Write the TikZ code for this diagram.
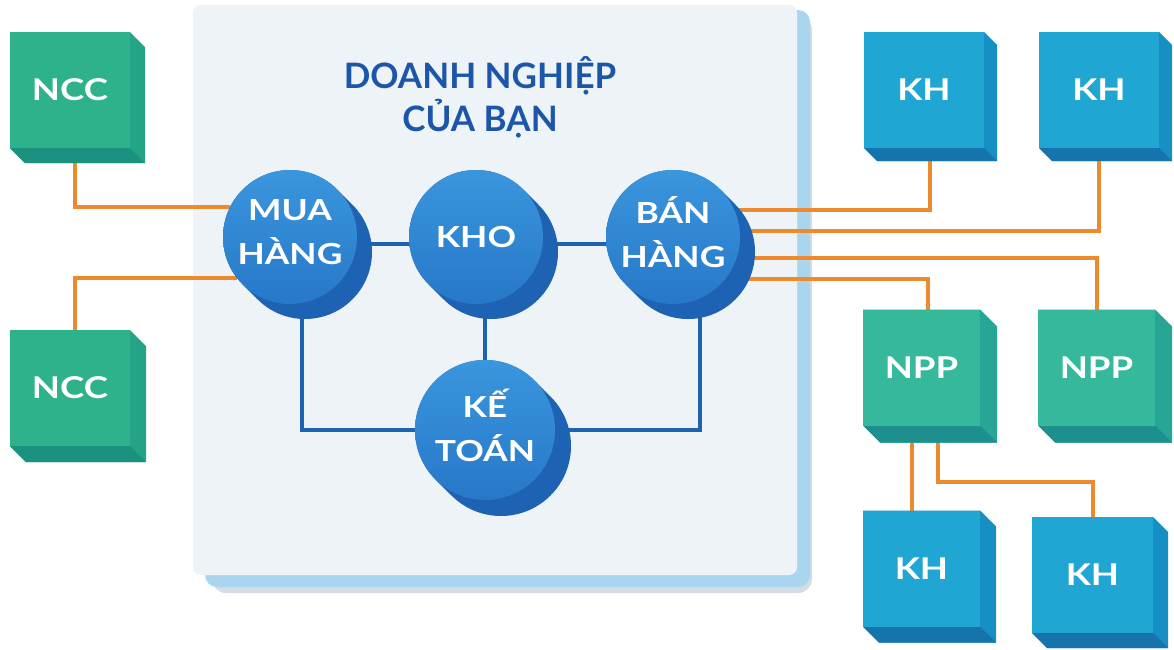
\documentclass[tikz,border=0pt]{standalone}
\usepackage{fontspec}
\setmainfont{Lato}
\newfontfamily\widefont{Lato}[FakeStretch=1.22]
\usetikzlibrary{calc}
\definecolor{bgwhite}{HTML}{FFFFFF}
\definecolor{panelface}{HTML}{EEF3F8}
\definecolor{panelside}{HTML}{A9D6EE}
\definecolor{panelshadow}{HTML}{D5DCE4}
\definecolor{titleblue}{HTML}{1B56A8}
\definecolor{wireorange}{HTML}{EE8A2E}
\definecolor{wireblue}{HTML}{1F63B0}
\definecolor{disktop}{HTML}{3A96DD}
\definecolor{diskbot}{HTML}{2778C8}
\definecolor{diskside}{HTML}{1E62B4}
\definecolor{nccface}{HTML}{2EB28C}
\definecolor{nccside}{HTML}{24A386}
\definecolor{nccbot}{HTML}{1B9280}
\definecolor{khface}{HTML}{1FA6D2}
\definecolor{khside}{HTML}{1690C4}
\definecolor{khbot}{HTML}{1574AC}
\definecolor{nppface}{HTML}{36B89C}
\definecolor{nppside}{HTML}{27A595}
\definecolor{nppbot}{HTML}{1C8F8E}
\pgfdeclarelayer{panel}
\pgfdeclarelayer{wires}
\pgfdeclarelayer{depth}
\pgfsetlayers{panel,wires,depth,main}
% extrusion of a box node: name, depth, side colour, bottom colour
\newcommand\boxdepth[4]{%
  \begin{pgfonlayer}{depth}
    \fill[#3] (#1.north west) -- (#1.north east) -- ($(#1.north east)+(#2,#2)$)
      -- ($(#1.south east)+(#2,#2)$) -- ($(#1.south west)+(#2,#2)$) -- (#1.south west) -- cycle;
    \fill[#4] (#1.south west) -- (#1.south east) -- ($(#1.south east)+(#2,#2)$)
      -- ($(#1.south west)+(#2,#2)$) -- cycle;
  \end{pgfonlayer}}
% extrusion of a disk node: name, dx, dy, diameter
\newcommand\diskdepth[4]{%
  \begin{pgfonlayer}{depth}
    \draw[diskside, line width=#4, line cap=round] (#1.center) -- ($(#1.center)+(#2,#3)$);
  \end{pgfonlayer}}
\begin{document}
\begin{tikzpicture}[x=1pt, y=-1pt,
  cubebox/.style={minimum width=120pt, minimum height=116pt, inner sep=0pt, outer sep=0pt,
    text=white, font=\widefont\bfseries\fontsize{30}{30}\selectfont},
  ncc/.style={cubebox, fill=nccface},
  kh/.style={cubebox, fill=khface},
  npp/.style={cubebox, fill=nppface},
  disk/.style={circle, minimum size=134pt, inner sep=0pt, outer sep=0pt,
    top color=disktop, bottom color=diskbot, draw=none, text=white, align=center,
    font=\widefont\bfseries\fontsize{29}{44}\selectfont},
  twoline/.style={text depth=10pt},
  owire/.style={draw=wireorange, line width=4pt},
  bwire/.style={draw=wireblue, line width=4pt},
  title/.style={text=titleblue, align=center, font=\bfseries\fontsize{35}{43}\selectfont}
]
\useasboundingbox (0,0) rectangle (1174,649);

% panel
\begin{pgfonlayer}{panel}
  \fill[bgwhite] (0,0) rectangle (1174,649);
  \fill[panelshadow, rounded corners=14pt] (212,16) rectangle (812,593);
  \fill[panelside, rounded corners=12pt] (205,10) rectangle (810,587);
  \fill[panelface, rounded corners=8pt] (193,5) rectangle (797,575);
\end{pgfonlayer}

\node[title] (title) at (480,97) {DOANH NGHIỆP\\CỦA BẠN};

% department disks
\node[disk, twoline] (mua) at (290,237) {MUA\\HÀNG};
\node[disk] (kho) at (476,237) {KHO};
\node[disk, twoline] (ban) at (673,237) {BÁN\\HÀNG};
\node[disk, twoline, minimum size=140pt] (ke) at (485,430) {KẾ\\TOÁN};
\diskdepth{mua}{15}{15}{134pt}
\diskdepth{kho}{15}{15}{134pt}
\diskdepth{ban}{15}{15}{134pt}
\diskdepth{ke}{16}{16}{140pt}

% outside boxes
\node[ncc] (ncc1) at (70,90) {NCC};
\node[ncc] (ncc2) at (70,388) {NCC};
\node[kh] (kh1) at (924,90) {KH};
\node[kh] (kh2) at (1099,90) {KH};
\node[npp, minimum width=117pt] (npp1) at (921.5,367.5) {NPP};
\node[npp, minimum width=117pt] (npp2) at (1096.5,367.5) {NPP};
\node[kh, minimum width=117pt] (kh3) at (921.5,568.5) {KH};
\node[kh, minimum width=121pt] (kh4) at (1092.5,575) {KH};
\boxdepth{ncc1}{15}{nccside}{nccbot}
\boxdepth{ncc2}{16}{nccside}{nccbot}
\boxdepth{kh1}{13}{khside}{khbot}
\boxdepth{kh2}{13}{khside}{khbot}
\boxdepth{npp1}{17}{nppside}{nppbot}
\boxdepth{npp2}{17}{nppside}{nppbot}
\boxdepth{kh3}{16}{khside}{khbot}
\boxdepth{kh4}{15}{khside}{khbot}

% connectors
\begin{pgfonlayer}{wires}
  \draw[bwire] ($(mua)+(0,7)$) -- ($(kho)+(0,7)$);
  \draw[bwire] ($(kho)+(0,7)$) -- ($(ban)+(0,7)$);
  \draw[bwire] (ke) -- (ke |- kho);
  \draw[bwire] ($(mua)+(12,0)$) |- (ke);
  \draw[bwire] ($(ban)+(27,0)$) |- (ke);

  \draw[owire] ([xshift=5pt]ncc1.south) |- (mua.153);
  \draw[owire] ([xshift=5pt]ncc2.north) |- (mua.218);
  \draw[owire] ($(ban)+(0,-27)$) -| ([xshift=6pt]kh1.south);
  \draw[owire] ($(ban)+(0,-6)$) -| (kh2.south);
  \draw[owire] ($(ban)+(0,21)$) -| (npp2.north);
  \draw[owire] ($(ban)+(0,42)$) -| ([xshift=6pt]npp1.north);
  \draw[owire] ([xshift=-10pt]npp1.south) -- ([xshift=-10pt]kh3.north);
  \draw[owire] ([xshift=16pt]npp1.south) |- ($(kh4.north)+(0,-35)$) -- (kh4.north);
\end{pgfonlayer}
\end{tikzpicture}
\end{document}
